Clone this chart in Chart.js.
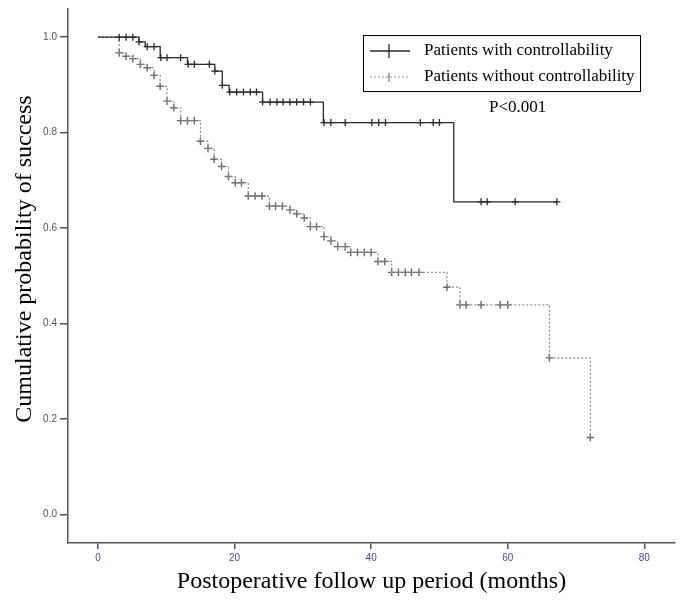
<!DOCTYPE html>
<html><head><meta charset="utf-8">
<script src="https://cdn.jsdelivr.net/npm/chart.js@4/dist/chart.umd.min.js"></script>
<style>html,body{margin:0;padding:0;background:#fff}#wrap{width:685px;height:609px;position:relative}</style>
</head><body><div id="wrap"><canvas id="c" width="685" height="609"></canvas></div>
<script>
// ---- data ----
const seriesNames = ["Patients with controllability", "Patients without controllability"];
const pValueText = "P<0.001";
const xTitle = "Postoperative follow up period (months)";
const yTitle = "Cumulative probability of success";
const xTicks = [0, 20, 40, 60, 80];
const yTicks = [0.0, 0.2, 0.4, 0.6, 0.8, 1.0];

// patients with controllability: step times and survival after each step
const ctrlTimes = [0, 6.0, 6.9, 9.1, 13.1, 17.1, 18.2, 19.2, 24.1, 33.0, 52.1];
const ctrlSurv  = [1.0, 0.990, 0.980, 0.957, 0.943, 0.929, 0.899, 0.885, 0.864, 0.821, 0.655];
const ctrlEnd = 67.2;
const ctrlCensor = [3.1, 4.1, 5.1, 6.0, 7.2, 8.2, 9.2, 10.1, 12.1, 13.2, 14.1, 16.3, 17.1, 18.2,
  19.3, 20.3, 21.3, 22.3, 23.2, 24.1, 25.2, 26.2, 27.1, 28.1, 29.1, 30.1, 31.1, 33.1, 34.1, 36.2,
  40.1, 41.1, 42.1, 47.2, 49.1, 50.0, 56.1, 57.0, 61.1, 67.2];

// patients without controllability
const noctrlTimes = [0, 3.1, 4.1, 5.1, 6.2, 7.2, 8.2, 9.1, 10.1, 11.1, 12.1, 15.0, 16.1, 17.0, 18.1,
  19.1, 20.1, 22.0, 25.1, 28.1, 29.1, 30.2, 31.1, 33.1, 34.1, 35.1, 37.0, 41.0, 43.0, 51.1, 53.0, 66.1, 72.1];
const noctrlSurv  = [1.0, 0.967, 0.960, 0.955, 0.943, 0.936, 0.920, 0.897, 0.866, 0.852, 0.825, 0.782, 0.767,
  0.744, 0.729, 0.708, 0.695, 0.667, 0.646, 0.638, 0.630, 0.621, 0.603, 0.582, 0.573, 0.561, 0.549, 0.530,
  0.507, 0.476, 0.439, 0.328, 0.161];
const noctrlCensor = [3.1, 4.1, 5.1, 6.2, 7.2, 8.2, 9.1, 10.1, 11.1, 12.1, 13.1, 14.1, 15.0, 16.1, 17.0,
  18.1, 19.1, 20.1, 21.0, 22.0, 23.0, 24.0, 25.1, 26.0, 27.0, 28.1, 29.1, 30.2, 31.1, 32.0, 33.1, 34.1,
  35.1, 36.2, 37.0, 38.0, 39.0, 40.0, 41.0, 42.0, 43.0, 44.0, 45.0, 45.9, 47.0, 51.1, 53.0, 53.9, 56.1,
  58.9, 60.0, 66.1, 72.1];

// ---- helpers ----
function stepPoints(times, surv, end) {
  const pts = times.map((t, i) => ({x: t, y: surv[i]}));
  if (end !== undefined) pts.push({x: end, y: surv[surv.length - 1]});
  return pts;
}
function survAt(times, surv, t) {
  let v = surv[0];
  for (let i = 0; i < times.length; i++) if (times[i] <= t + 1e-9) v = surv[i];
  return v;
}
function censorPoints(times, surv, cens) {
  return cens.map(t => ({x: t, y: survAt(times, surv, t)}));
}

const BLACK = '#2a2a2a', GRAY = '#8a8a8a', GRAYMARK = '#6a6a6a';
const SERIF = '"Liberation Serif", "Times New Roman", serif';

const overlayPlugin = {
  id: 'kmOverlay',
  afterDraw(chart) {
    const c = chart.ctx;
    c.save();
    // y-axis title
    c.fillStyle = '#000';
    c.font = '24px ' + SERIF;
    c.textAlign = 'center';
    c.textBaseline = 'middle';
    c.translate(25, 259);
    c.rotate(-Math.PI / 2);
    c.fillText(yTitle, 0, 0);
    c.restore();

    c.save();
    // legend box
    c.strokeStyle = '#000';
    c.lineWidth = 1;
    c.strokeRect(363.5, 35.5, 277, 56);
    // row 1
    c.strokeStyle = BLACK; c.lineWidth = 1.3;
    c.beginPath(); c.moveTo(370, 51); c.lineTo(410, 51); c.stroke();
    c.beginPath(); c.moveTo(389, 44); c.lineTo(389, 58); c.stroke();
    // row 2
    c.strokeStyle = GRAY; c.lineWidth = 1.1; c.setLineDash([2, 2]);
    c.beginPath(); c.moveTo(370, 77); c.lineTo(410, 77); c.stroke();
    c.setLineDash([]);
    c.strokeStyle = GRAYMARK;
    c.beginPath(); c.moveTo(389, 73); c.lineTo(389, 82); c.stroke();
    c.fillStyle = '#000';
    c.font = '17px ' + SERIF;
    c.textAlign = 'left'; c.textBaseline = 'middle';
    c.fillText(seriesNames[0], 424, 51);
    c.fillText(seriesNames[1], 424, 77);
    c.fillText(pValueText, 489, 108);
    c.restore();
  }
};

new Chart(document.getElementById('c'), {
  type: 'scatter',
  data: {
    datasets: [
      { label: seriesNames[0], data: stepPoints(ctrlTimes, ctrlSurv, ctrlEnd), showLine: true, stepped: 'before',
        borderColor: BLACK, borderWidth: 1.3, pointRadius: 0, fill: false },
      { label: seriesNames[0] + ' censored', data: censorPoints(ctrlTimes, ctrlSurv, ctrlCensor), showLine: false,
        pointStyle: 'cross', pointRadius: 3.5, borderColor: BLACK, borderWidth: 1.3, backgroundColor: BLACK },
      { label: seriesNames[1], data: stepPoints(noctrlTimes, noctrlSurv), showLine: true, stepped: 'before',
        borderColor: GRAY, borderWidth: 1.2, borderDash: [2, 2], pointRadius: 0, fill: false },
      { label: seriesNames[1] + ' censored', data: censorPoints(noctrlTimes, noctrlSurv, noctrlCensor), showLine: false,
        pointStyle: 'cross', pointRadius: 3.8, borderColor: GRAYMARK, borderWidth: 1.4, backgroundColor: GRAYMARK }
    ]
  },
  options: {
    responsive: false,
    animation: false,
    layout: { padding: { left: 0, top: 8, right: 10, bottom: 0 } },
    plugins: { legend: { display: false }, tooltip: { enabled: false } },
    scales: {
      x: {
        type: 'linear', min: -4.4, max: 84.5,
        afterBuildTicks: s => { s.ticks = xTicks.map(v => ({value: v})); },
        afterFit: s => { s.height = 66; },
        grid: { display: true, drawOnChartArea: false, drawTicks: true, tickLength: 6, color: '#555', lineWidth: 1.5 },
        border: { display: true, color: '#555', width: 1.5 },
        ticks: { color: '#4a4aa0', font: { family: '"Liberation Sans", Arial, sans-serif', size: 10 }, padding: 3,
                 callback: v => String(v), maxRotation: 0 },
        title: { display: true, text: xTitle, color: '#000', font: { family: SERIF, size: 24 }, padding: { top: 0, bottom: 13 } }
      },
      y: {
        type: 'linear', min: -0.06, max: 1.059,
        afterBuildTicks: s => { s.ticks = yTicks.map(v => ({value: v})); },
        afterFit: s => { s.width = 68; },
        grid: { display: true, drawOnChartArea: false, drawTicks: true, tickLength: 8, color: '#555', lineWidth: 1.5 },
        border: { display: true, color: '#555', width: 1.5 },
        ticks: { color: '#555', font: { family: '"Liberation Sans", Arial, sans-serif', size: 10 }, padding: 3,
                 callback: v => Number(v).toFixed(1) },
        title: { display: false }
      }
    }
  },
  plugins: [overlayPlugin]
});
</script>
</body></html>
